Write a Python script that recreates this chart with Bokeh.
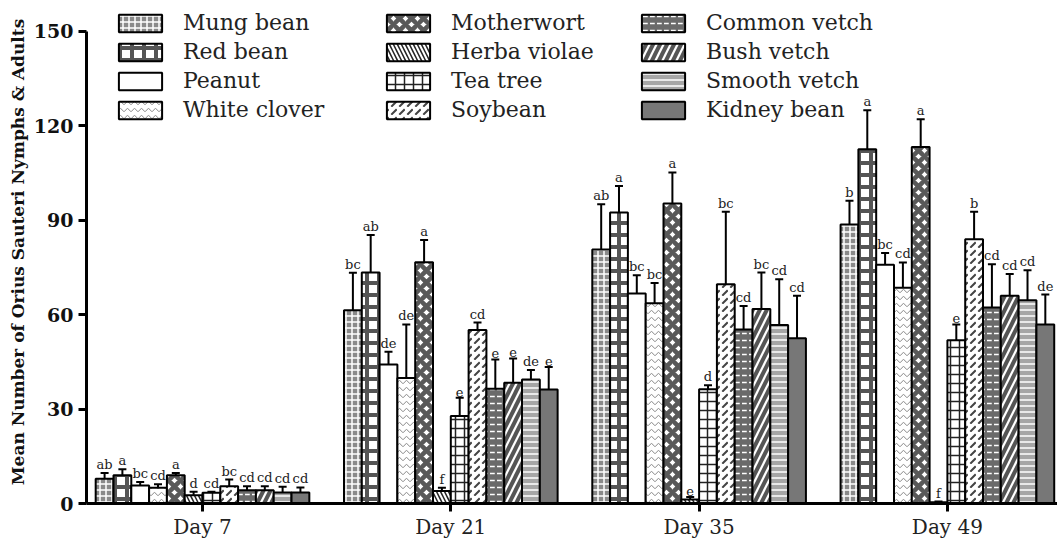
from bokeh.plotting import figure
from bokeh.models import ColumnDataSource, Whisker, TeeHead, Legend, LegendItem, FixedTicker
from bokeh.embed import file_html
from bokeh.resources import INLINE
from bokeh.core.properties import value

days = ["Day 7", "Day 21", "Day 35", "Day 49"]
day_pos = [0, 1, 2, 3]
y_ticks = [0, 30, 60, 90, 120, 150]

plants = ["Mung bean", "Red bean", "Peanut", "White clover",
          "Motherwort", "Herba violae", "Tea tree", "Soybean",
          "Common vetch", "Bush vetch", "Smooth vetch", "Kidney bean"]

# means per plant (Day 7, 21, 35, 49)
mung_bean = [7.9, 61.4, 80.7, 88.7]
red_bean = [9.0, 73.4, 92.5, 112.6]
peanut = [5.7, 44.2, 66.7, 75.9]
white_clover = [5.0, 39.9, 63.6, 68.6]
motherwort = [9.0, 76.7, 95.3, 113.3]
herba_violae = [2.6, 4.0, 1.3, 0.4]
tea_tree = [3.4, 27.8, 36.3, 51.9]
soybean = [5.5, 55.1, 69.7, 84.0]
common_vetch = [4.2, 36.5, 55.3, 62.3]
bush_vetch = [4.2, 38.4, 61.8, 66.0]
smooth_vetch = [3.5, 39.4, 56.7, 64.6]
kidney_bean = [3.5, 36.2, 52.5, 56.9]

# standard errors
mung_bean_se = [1.8, 11.9, 14.4, 7.5]
red_bean_se = [1.9, 11.9, 8.4, 12.4]
peanut_se = [1.1, 4.0, 5.8, 3.7]
white_clover_se = [1.1, 17.0, 6.5, 8.0]
motherwort_se = [0.7, 7.0, 9.9, 8.8]
herba_violae_se = [1.1, 1.0, 0.8, 0.2]
tea_tree_se = [0.3, 5.8, 1.3, 5.0]
soybean_se = [2.1, 2.4, 23.0, 8.7]
common_vetch_se = [1.3, 9.3, 7.5, 13.7]
bush_vetch_se = [1.3, 7.7, 11.6, 6.9]
smooth_vetch_se = [1.8, 3.0, 14.6, 9.5]
kidney_bean_se = [1.6, 7.2, 13.5, 9.5]

# significance letters
mung_bean_sig = ["ab", "bc", "ab", "b"]
red_bean_sig = ["a", "ab", "a", "a"]
peanut_sig = ["bc", "de", "bc", "bc"]
white_clover_sig = ["cd", "de", "bc", "cd"]
motherwort_sig = ["a", "a", "a", "a"]
herba_violae_sig = ["d", "f", "e", "f"]
tea_tree_sig = ["cd", "e", "d", "e"]
soybean_sig = ["bc", "cd", "bc", "b"]
common_vetch_sig = ["cd", "e", "cd", "cd"]
bush_vetch_sig = ["cd", "e", "bc", "cd"]
smooth_vetch_sig = ["cd", "de", "cd", "cd"]
kidney_bean_sig = ["cd", "e", "cd", "de"]

means = [mung_bean, red_bean, peanut, white_clover, motherwort, herba_violae,
         tea_tree, soybean, common_vetch, bush_vetch, smooth_vetch, kidney_bean]
ses = [mung_bean_se, red_bean_se, peanut_se, white_clover_se, motherwort_se, herba_violae_se,
       tea_tree_se, soybean_se, common_vetch_se, bush_vetch_se, smooth_vetch_se, kidney_bean_se]
sigs = [mung_bean_sig, red_bean_sig, peanut_sig, white_clover_sig, motherwort_sig, herba_violae_sig,
        tea_tree_sig, soybean_sig, common_vetch_sig, bush_vetch_sig, smooth_vetch_sig, kidney_bean_sig]

styles = [
    dict(fill_color="#8a8a8a", hatch_pattern="+", hatch_color="white", hatch_scale=6, hatch_weight=1.5),
    dict(fill_color="white", hatch_pattern="+", hatch_color="#555555", hatch_scale=12, hatch_weight=4),
    dict(fill_color="white"),
    dict(fill_color="white", hatch_pattern="v", hatch_color="#888888", hatch_scale=7, hatch_weight=1),
    dict(fill_color="white", hatch_pattern="x", hatch_color="#595959", hatch_scale=12, hatch_weight=4.5),
    dict(fill_color="white", hatch_pattern="\\", hatch_color="#222222", hatch_scale=8, hatch_weight=1.5),
    dict(fill_color="white", hatch_pattern="+", hatch_color="#222222", hatch_scale=9, hatch_weight=1.5),
    dict(fill_color="white", hatch_pattern=",", hatch_color="#444444", hatch_scale=8, hatch_weight=2),
    dict(fill_color="#6a6a6a", hatch_pattern='"', hatch_color="white", hatch_scale=7, hatch_weight=1.5),
    dict(fill_color="white", hatch_pattern="/", hatch_color="#555555", hatch_scale=14, hatch_weight=4),
    dict(fill_color="#a6a6a6", hatch_pattern="-", hatch_color="white", hatch_scale=6, hatch_weight=1.5),
    dict(fill_color="#777777"),
]

SERIF = "DejaVu Serif"
bar_w = 0.0717

p = figure(width=1057, height=545, output_backend="svg", toolbar_location=None,
           x_range=(-0.4672, 3.4434), y_range=(0, 159.85),
           min_border_left=86, min_border_right=0, min_border_top=0, min_border_bottom=42)
p.outline_line_color = None
p.grid.visible = False
p.background_fill_color = "white"

renderers = []
for i, name in enumerate(plants):
    xs = [d + (i - 5.5) * bar_w for d in day_pos]
    upper = [m + s for m, s in zip(means[i], ses[i])]
    src = ColumnDataSource(dict(x=xs, top=means[i], upper=upper, sig=sigs[i]))
    r = p.vbar(x="x", top="top", width=bar_w, source=src, line_color="black", line_width=2,
               **styles[i])
    renderers.append(r)
    w = Whisker(source=src, base="x", upper="upper", lower="top", dimension="height",
                line_width=2, line_color="black",
                upper_head=TeeHead(size=8, line_width=2, line_color="black"), lower_head=None)
    p.add_layout(w)
    p.text(x="x", y="upper", text="sig", source=src, text_align="center", text_baseline="bottom",
           text_font=value(SERIF), text_font_size="13px", text_color="#222222", y_offset=-1)

# legends in three columns
legend_x = [27, 295, 550]
for c in range(3):
    items = [LegendItem(label=plants[c * 4 + k], renderers=[renderers[c * 4 + k]]) for k in range(4)]
    lg = Legend(items=items, location=(legend_x[c], 381), padding=0, margin=0, spacing=4,
                glyph_width=54, glyph_height=22, label_standoff=16,
                label_text_font=SERIF, label_text_font_size="22px", label_text_color="#222222",
                border_line_color=None, background_fill_alpha=0)
    p.add_layout(lg)

# axes
p.xaxis.ticker = FixedTicker(ticks=day_pos)
p.xaxis.major_label_overrides = {d: days[d] for d in day_pos}
p.xaxis.major_label_text_font = SERIF
p.xaxis.major_label_text_font_size = "20px"
p.xaxis.major_label_text_color = "#222222"
p.xaxis.major_label_standoff = 3
p.xaxis.minor_tick_line_color = None

p.yaxis.ticker = FixedTicker(ticks=y_ticks)
p.yaxis.bounds = (0, 150)
p.yaxis.major_label_text_font = SERIF
p.yaxis.major_label_text_font_style = "bold"
p.yaxis.major_label_text_font_size = "19px"
p.yaxis.major_label_text_color = "#111111"
p.yaxis.major_label_standoff = 5
p.yaxis.minor_tick_line_color = None
p.yaxis.axis_label = "Mean Number of Orius Sauteri Nymphs & Adults"
p.yaxis.axis_label_text_font = SERIF
p.yaxis.axis_label_text_font_style = "bold"
p.yaxis.axis_label_text_font_size = "17px"
p.yaxis.axis_label_text_color = "#111111"
p.yaxis.axis_label_standoff = 3

for ax in (p.xaxis, p.yaxis):
    ax.axis_line_width = 3
    ax.axis_line_color = "black"
    ax.major_tick_line_width = 3
    ax.major_tick_line_color = "black"
    ax.major_tick_out = 8
    ax.major_tick_in = 0

open("out.html", "w").write(file_html(p, INLINE))
